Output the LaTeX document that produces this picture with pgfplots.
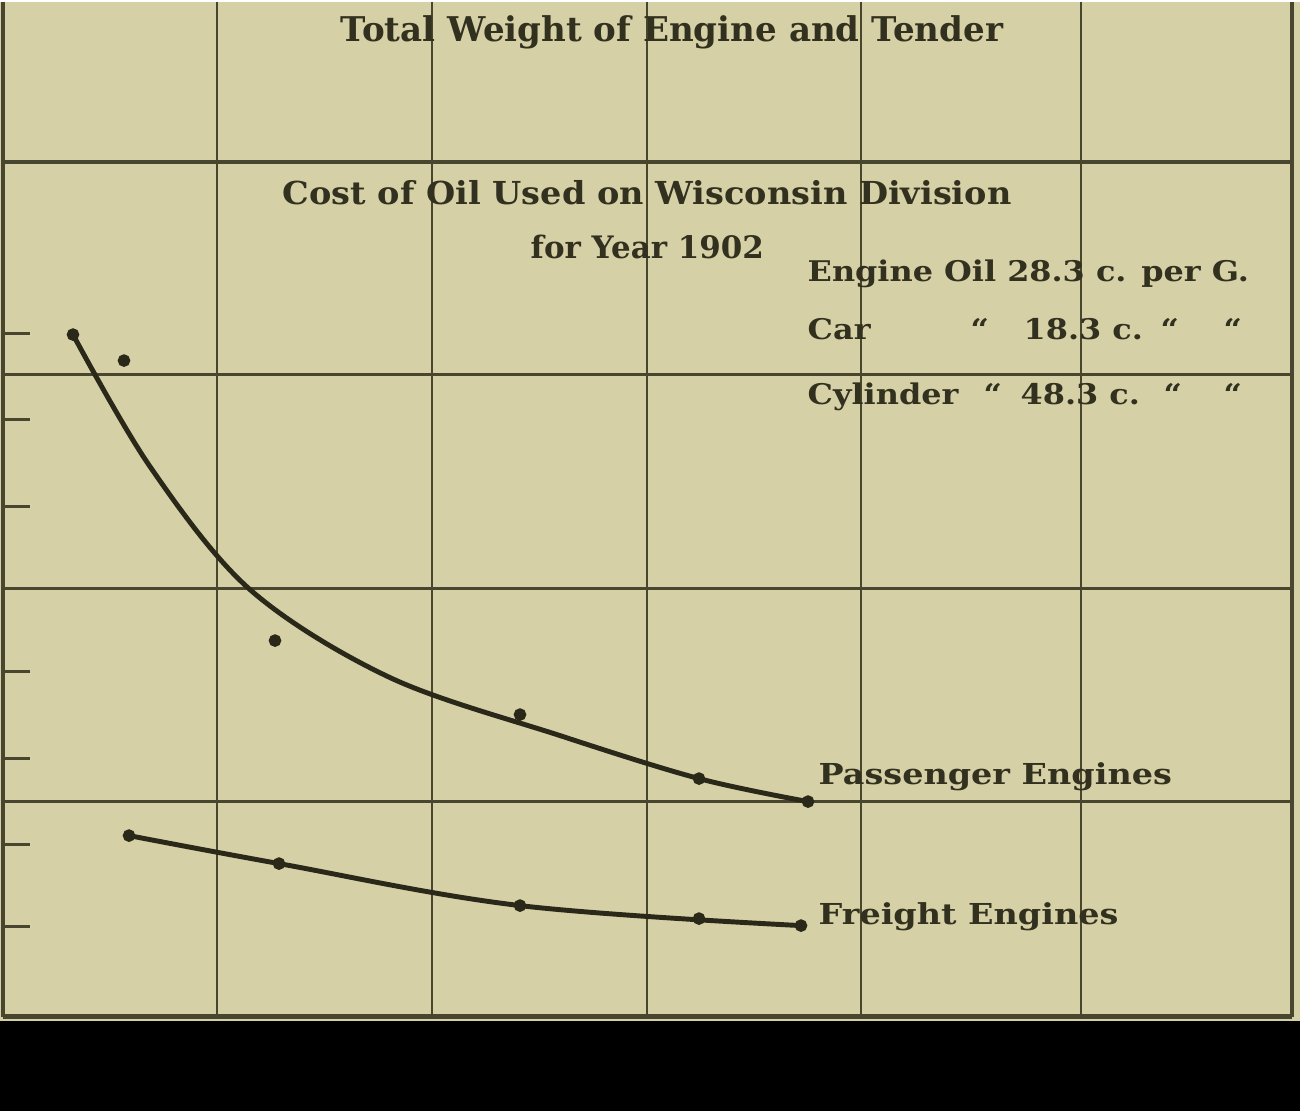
\documentclass[border=0pt]{standalone}
\usepackage{pgfplots}
\pgfplotsset{compat=1.18}
\usepackage{fontspec}
\setmainfont{DejaVu Serif}
\newfontfamily\fsA{DejaVu Serif}
\newfontfamily\fsB[FakeStretch=1.06]{DejaVu Serif}
\newfontfamily\fsC[FakeStretch=1.12]{DejaVu Serif}
\newfontfamily\fsD[FakeStretch=1.16]{DejaVu Serif}
\definecolor{paper}{RGB}{214,208,167}
\definecolor{ink}{RGB}{42,40,24}
\definecolor{gridc}{RGB}{72,70,46}
\definecolor{txt}{RGB}{50,48,30}

% curve and point readings (x = horizontal position, y = depth from top edge)
\pgfplotstableread{
x y
73 333
150 465
250 588
390 676
560 734
699 777
808 800
}\passcurve
\pgfplotstableread{
x y
73 333
124 359
275 639
520 713
699 777
808 800
}\passpts
\pgfplotstableread{
x y
129 834
279 862
520 904
801 924
}\freightcurve
\pgfplotstableread{
x y
129 834
279 862
520 904
699 917
801 924
}\freightpts

\begin{document}
\begin{tikzpicture}
\begin{axis}[
  width=130mm, height=110.9mm, scale only axis,
  xmin=0, xmax=1300, ymin=0, ymax=1109, y dir=reverse,
  hide axis, clip=false,
]
% paper and bottom band
\fill[paper] (axis cs:0,0) rectangle (axis cs:1300,1109);
\fill[black] (axis cs:0,1019) rectangle (axis cs:1300,1109);
% grid
\foreach \gx in {217,432,647,861,1081}{
  \edef\tmp{\noexpand\draw[gridc, line width=0.6pt] (axis cs:\gx,0) -- (axis cs:\gx,1015);}\tmp
}
\draw[gridc, line width=0.9pt] (axis cs:3,0) -- (axis cs:3,1015);
\draw[gridc, line width=0.9pt] (axis cs:1292,0) -- (axis cs:1292,1015);
\draw[gridc, line width=1.1pt] (axis cs:3,160) -- (axis cs:1292,160);
\draw[gridc, line width=0.7pt] (axis cs:3,373) -- (axis cs:1292,373);
\draw[gridc, line width=0.7pt] (axis cs:3,587) -- (axis cs:1292,587);
\draw[gridc, line width=0.7pt] (axis cs:3,800) -- (axis cs:1292,800);
\draw[gridc, line width=1.2pt] (axis cs:3,1015) -- (axis cs:1292,1015);
% left ticks
\foreach \ty in {332,418,505,670,757,843,925}{
  \edef\tmp{\noexpand\draw[gridc, line width=0.7pt] (axis cs:3,\ty) -- (axis cs:30,\ty);}\tmp
}
% curves
\addplot[ink, line width=1.4pt, smooth, tension=0.55] table {\passcurve};
\addplot[ink, line width=1.4pt, smooth, tension=0.6] table {\freightcurve};
\addplot[ink, only marks, mark=*, mark size=1.6pt] table {\passpts};
\addplot[ink, only marks, mark=*, mark size=1.6pt] table {\freightpts};
% texts
\node[anchor=base west, txt, inner sep=0pt, font=\fsA\bfseries\fontsize{9.7pt}{11pt}\selectfont] at (axis cs:340,40) {Total Weight of Engine and Tender};
\node[anchor=base west, txt, inner sep=0pt, font=\fsB\bfseries\fontsize{9pt}{11pt}\selectfont] at (axis cs:282,203) {Cost of Oil Used on Wisconsin Division};
\node[anchor=base west, txt, inner sep=0pt, font=\fsA\bfseries\fontsize{8.8pt}{11pt}\selectfont] at (axis cs:530,257) {for Year 1902};
\begin{scope}[every node/.style={anchor=base west, txt, inner sep=0pt, font=\fsC\bfseries\fontsize{8.1pt}{9pt}\selectfont}]
\node at (axis cs:807,280) {Engine Oil 28.3 c. per G.};
\node at (axis cs:807,338) {Car};
\node at (axis cs:970,338) {“};
\node at (axis cs:1023,338) {18.3 c.};
\node at (axis cs:1160,338) {“};
\node at (axis cs:1223,338) {“};
\node at (axis cs:807,403) {Cylinder};
\node at (axis cs:983,403) {“};
\node at (axis cs:1020,403) {48.3 c.};
\node at (axis cs:1163,403) {“};
\node at (axis cs:1223,403) {“};
\end{scope}
\node[anchor=base west, txt, inner sep=0pt, font=\fsD\bfseries\fontsize{8.2pt}{9pt}\selectfont] at (axis cs:818,783) {Passenger Engines};
\node[anchor=base west, txt, inner sep=0pt, font=\fsD\bfseries\fontsize{8.2pt}{9pt}\selectfont] at (axis cs:818,923) {Freight Engines};
\end{axis}
\end{tikzpicture}
\end{document}
